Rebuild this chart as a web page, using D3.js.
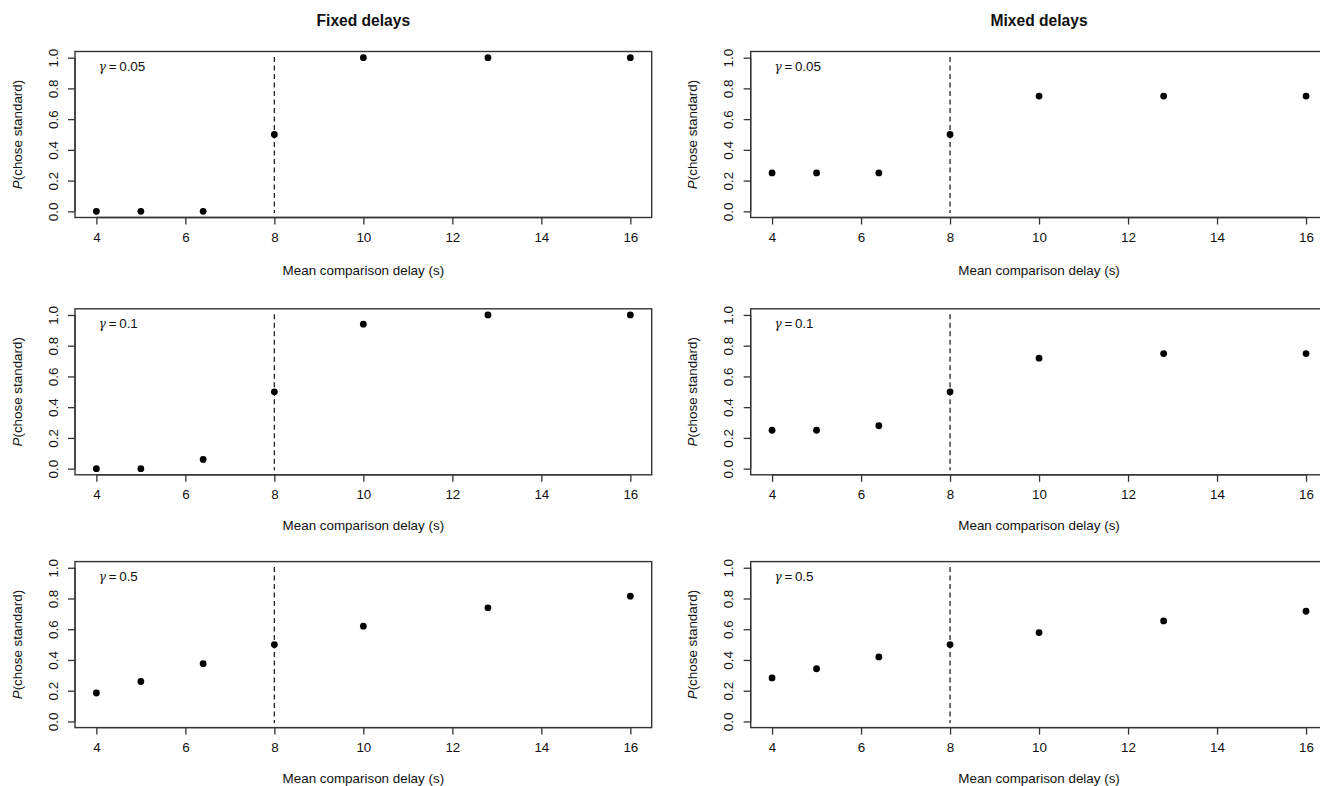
<!DOCTYPE html>
<html lang="en">
<head>
    <meta charset="UTF-8">
    <title>Fixed vs mixed delays</title>
    <style>
        body{ margin: 0; background: #fff; }
        svg{ display: block; font-family: "Liberation Sans", Arial, Helvetica, sans-serif; }
        .box{ fill: none; stroke: #333; stroke-width: 1.4; }
        .axis path, .axis line{ stroke: #333; stroke-width: 1.3; }
        .lab{ font-size: 13.4px; fill: #111; }
        .title{ font-size: 15.6px; font-weight: bold; fill: #111; }
    </style>
</head>
<body>
    <svg width="1320" height="786"></svg>
    <script src="https://d3js.org/d3.v7.min.js"></script>
    <script>
        // data
        var delays = [4, 5, 6.4, 8, 10, 12.8, 16];
        var gammas = ["0.05", "0.1", "0.5"];
        var conditions = ["Fixed delays", "Mixed delays"];

        var fixedG005 = [0, 0, 0, 0.5, 1, 1, 1];
        var fixedG01  = [0, 0, 0.06, 0.5, 0.94, 1, 1];
        var fixedG05  = [0.185, 0.26, 0.376, 0.5, 0.62, 0.739, 0.815];
        var mixedG005 = [0.25, 0.25, 0.25, 0.5, 0.75, 0.75, 0.75];
        var mixedG01  = [0.25, 0.25, 0.279, 0.5, 0.719, 0.749, 0.749];
        var mixedG05  = [0.283, 0.343, 0.42, 0.5, 0.578, 0.654, 0.717];

        var xTicks = [4, 6, 8, 10, 12, 14, 16];
        var yTicks = [0, 0.2, 0.4, 0.6, 0.8, 1];
        var standardDelay = 8;

        var series = [
            [fixedG005, fixedG01, fixedG05],
            [mixedG005, mixedG01, mixedG05]
        ];

        var svg = d3.select("svg");
        var font = "'Liberation Sans', Arial, Helvetica, sans-serif";

        // layout of the 3x2 grid (right column runs off the page, like the original)
        var colLeft = [75, 750.7],
            rowTop = [51.5, 308.8, 561.6],
            xTitleOff = [57.5, 55, 55.5],
            panelW = 576.7,
            panelH = 166;

        // R style 4% padding on both axes
        function padded(lo, hi){ var p = (hi - lo) * 0.04; return [lo - p, hi + p]; }

        conditions.forEach(function(cond, c){
            svg.append("text")
                .attr("class", "title")
                .attr("x", colLeft[c] + panelW / 2)
                .attr("y", 25.5)
                .attr("text-anchor", "middle")
                .text(cond);

            gammas.forEach(function(gam, r){
                var L = colLeft[c], T = rowTop[r];
                var g = svg.append("g").attr("transform", "translate(" + L + "," + T + ")");

                var x = d3.scaleLinear().domain(padded(4, 16)).range([0, panelW]);
                var y = d3.scaleLinear().domain(padded(0, 1)).range([panelH, 0]);

                // x axis (line only spans the ticks)
                var xa = g.append("g")
                    .attr("class", "axis")
                    .attr("font-family", font)
                    .attr("font-size", 13.4)
                    .call(function(s){ s.attr("transform", "translate(0," + panelH + ")"); })
                    .call(d3.axisBottom(x).tickValues(xTicks).tickSize(7).tickSizeOuter(0).tickFormat(d3.format("d")));
                xa.attr("font-family", font).attr("font-size", 13.4);
                xa.select(".domain").attr("d", "M" + x(4) + ",0H" + x(16));
                xa.selectAll("text").attr("y", 19.5).attr("dy", "0.36em").attr("fill", "#111");

                // y axis with rotated labels
                var ya = g.append("g")
                    .attr("class", "axis")
                    .call(d3.axisLeft(y).tickValues(yTicks).tickSize(7).tickSizeOuter(0).tickFormat(d3.format(".1f")));
                ya.attr("font-family", font).attr("font-size", 13.4);
                ya.select(".domain").attr("d", "M0," + y(0) + "V" + y(1));
                ya.selectAll("text")
                    .attr("x", null)
                    .attr("fill", "#111")
                    .attr("text-anchor", "middle")
                    .attr("transform", "translate(-22.3,0) rotate(-90)")
                    .attr("dy", "0.36em");

                g.append("rect")
                    .attr("class", "box")
                    .attr("width", panelW)
                    .attr("height", panelH);

                // dashed line at the standard delay
                g.append("line")
                    .attr("x1", x(standardDelay)).attr("x2", x(standardDelay))
                    .attr("y1", y(1.005)).attr("y2", y(-0.01))
                    .attr("stroke", "#222")
                    .attr("stroke-width", 1.3)
                    .attr("stroke-dasharray", "5,3.5");

                var pts = delays.map(function(d, i){ return {x: d, p: series[c][r][i]}; });
                g.selectAll("circle")
                    .data(pts)
                    .enter().append("circle")
                    .attr("cx", function(d){ return x(d.x); })
                    .attr("cy", function(d){ return y(d.p); })
                    .attr("r", 3.4)
                    .attr("fill", "#000");

                // gamma annotation
                var ann = g.append("text")
                    .attr("class", "lab")
                    .attr("x", x(4) + 2.5)
                    .attr("y", y(1) + 13.5);
                ann.append("tspan").style("font-style", "italic").style("font-family", "'DejaVu Serif', serif").style("font-size", "12px").text("\u03b3");
                ann.append("tspan").text("\u2009=\u2009" + gam);

                // axis titles
                g.append("text")
                    .attr("class", "lab")
                    .attr("x", panelW / 2)
                    .attr("y", panelH + xTitleOff[r])
                    .attr("text-anchor", "middle")
                    .text("Mean comparison delay (s)");

                var yl = g.append("text")
                    .attr("class", "lab")
                    .attr("text-anchor", "middle")
                    .attr("transform", "translate(-57.5," + (panelH / 2) + ") rotate(-90)")
                    .attr("dy", "0.32em");
                yl.append("tspan").style("font-style", "italic").text("P");
                yl.append("tspan").text("(chose standard)");
            });
        });
    </script>
</body>
</html>
